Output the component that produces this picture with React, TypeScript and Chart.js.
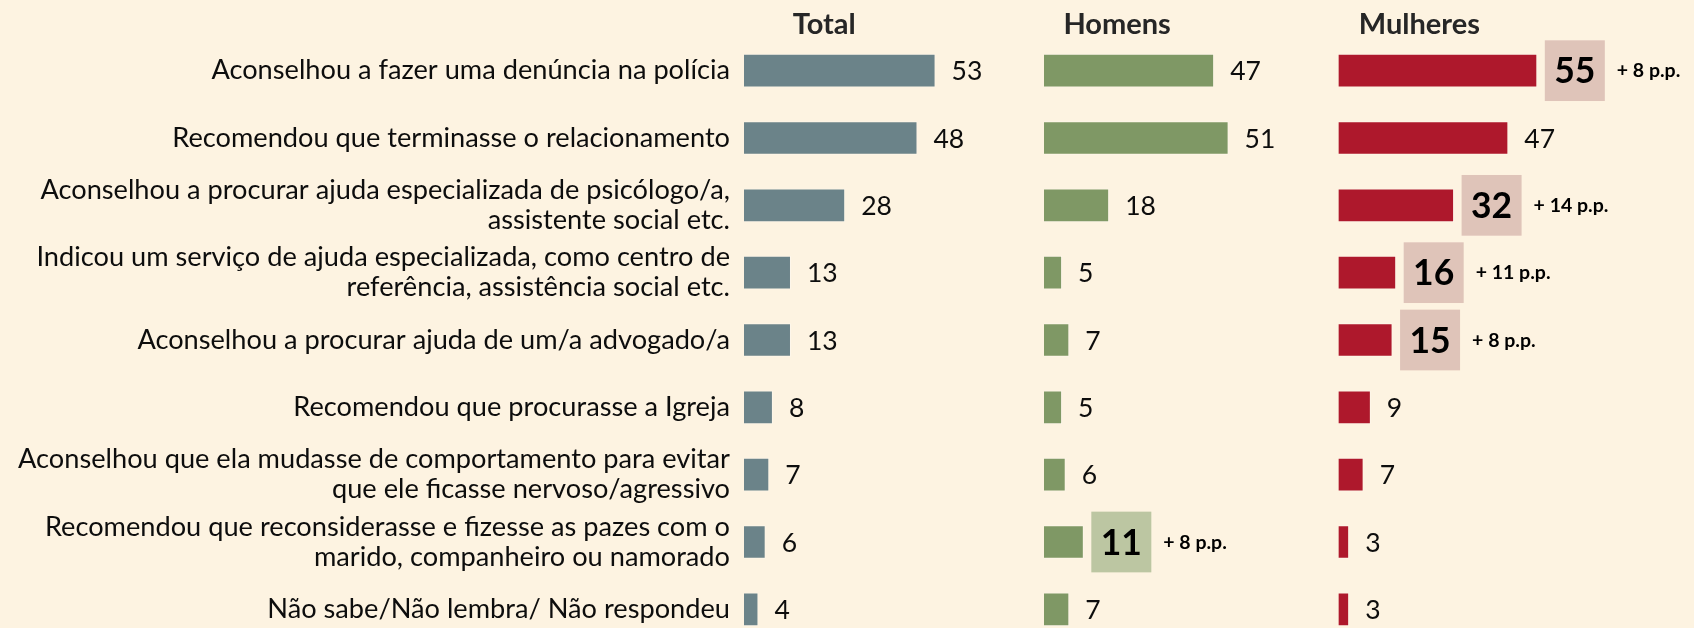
import React, { useEffect, useRef } from "react";
import { Chart, registerables } from "chart.js";

Chart.register(...registerables);

const categories: (string | string[])[] = [
  "Aconselhou a fazer uma denúncia na polícia",
  "Recomendou que terminasse o relacionamento",
  ["Aconselhou a procurar ajuda especializada de psicólogo/a,", "assistente social etc."],
  ["Indicou um serviço de ajuda especializada, como centro de", "referência, assistência social etc."],
  "Aconselhou a procurar ajuda de um/a advogado/a",
  "Recomendou que procurasse a Igreja",
  ["Aconselhou que ela mudasse de comportamento para evitar", "que ele ficasse nervoso/agressivo"],
  ["Recomendou que reconsiderasse e fizesse as pazes com o", "marido, companheiro ou namorado"],
  "Não sabe/Não lembra/ Não respondeu",
];

const totalValues = [53, 48, 28, 13, 13, 8, 7, 6, 4];
const homensValues = [47, 51, 18, 5, 7, 5, 6, 11, 7];
const mulheresValues = [55, 47, 32, 16, 15, 9, 7, 3, 3];

// difference in percentage points (highlighted values)
const totalDiff: (number | null)[] = [null, null, null, null, null, null, null, null, null];
const homensDiff: (number | null)[] = [null, null, null, null, null, null, null, 8, null];
const mulheresDiff: (number | null)[] = [8, null, 14, 11, 8, null, null, null, null];

const panelTitles = ["Total", "Homens", "Mulheres"];
const panelMax = [83, 81.3, 98.3];
const panelWeight = [300, 294.3, 355.7];
const titleAnchor = [22.2, 20.2, 22.4];

const FONT = "Lato, 'Noto Sans', sans-serif";
const BG = "#fdf3e1";
const barColors = ["#6b8389", "#7f9865", "#ae182c"];
const boxColors = ["#d9d9d9", "#bcc6a2", "#dfc4b9"];

const labelPlugin = {
  id: "valueLabels",
  afterDatasetsDraw(chart: any) {
    const ctx: CanvasRenderingContext2D = chart.ctx;
    ctx.save();
    chart.data.datasets.forEach((ds: any, di: number) => {
      const meta = chart.getDatasetMeta(di);
      meta.data.forEach((bar: any, i: number) => {
        const v = ds.data[i];
        const diff = ds.diffs[i];
        const endX = bar.x;
        const y = bar.y;
        if (diff == null) {
          ctx.font = `400 26.5px ${FONT}`;
          ctx.fillStyle = "#0d0d0d";
          ctx.textAlign = "left";
          ctx.textBaseline = "alphabetic";
          ctx.fillText(String(v), endX + 16, y + 9.8);
        } else {
          const bw = 60;
          const bh = 60.7;
          const bx = endX + 7.5;
          ctx.fillStyle = ds.boxColor;
          ctx.fillRect(bx, y - bh / 2, bw, bh);
          ctx.font = `700 35.5px ${FONT}`;
          ctx.fillStyle = "#000000";
          ctx.textAlign = "center";
          ctx.textBaseline = "alphabetic";
          ctx.fillText(String(v), bx + bw / 2, y + 12.8);
          ctx.font = `700 19.5px ${FONT}`;
          ctx.textAlign = "left";
          ctx.fillText(`+ ${diff} p.p.`, bx + bw + 12, y + 6.5);
        }
      });
      const scale = chart.scales[ds.xAxisID];
      ctx.font = `700 29px ${FONT}`;
      ctx.fillStyle = "#262626";
      ctx.textAlign = "center";
      ctx.textBaseline = "alphabetic";
      ctx.fillText(panelTitles[di], scale.getPixelForValue(titleAnchor[di]), 34.3);
    });
    ctx.restore();
  },
};

const bgPlugin = {
  id: "bg",
  beforeDraw(chart: any) {
    const ctx = chart.ctx;
    ctx.save();
    ctx.fillStyle = BG;
    ctx.fillRect(0, 0, chart.width, chart.height);
    ctx.restore();
  },
};

export default function App() {
  const ref = useRef<HTMLCanvasElement>(null);
  useEffect(() => {
    document.body.style.margin = "0";
    document.body.style.background = BG;
    const axisIds = ["xTotal", "xHomens", "xMulheres"];
    const series = [totalValues, homensValues, mulheresValues];
    const diffs = [totalDiff, homensDiff, mulheresDiff];
    const scales: any = {
      y: {
        type: "category",
        position: "left",
        grid: { display: false, drawTicks: false },
        border: { display: false },
        ticks: {
          autoSkip: false,
          padding: 14,
          color: "#0d0d0d",
          font: { family: FONT, size: 27.2, lineHeight: 30 / 27.2 },
        },
        afterFit: (s: any) => {
          s.width = 744;
          s.paddingTop = 0;
          s.paddingBottom = 0;
        },
      },
    };
    axisIds.forEach((id, k) => {
      scales[id] = {
        type: "linear",
        position: "bottom",
        stack: "panels",
        stackWeight: panelWeight[k],
        min: 0,
        max: panelMax[k],
        display: false,
        grid: { display: false },
      };
    });
    const chart = new Chart(ref.current!, {
      type: "bar",
      data: {
        labels: categories,
        datasets: series.map((data, k) => ({
          label: panelTitles[k],
          data,
          xAxisID: axisIds[k],
          yAxisID: "y",
          backgroundColor: barColors[k],
          borderColor: "rgba(255,255,255,0.3)",
          borderWidth: 1,
          grouped: false,
          barPercentage: 0.5,
          categoryPercentage: 1,
          diffs: diffs[k],
          boxColor: boxColors[k],
        })) as any,
      },
      options: {
        indexAxis: "y",
        responsive: false,
        animation: false,
        layout: { padding: { top: 37, bottom: 7, left: 0, right: 0 } },
        plugins: { legend: { display: false }, tooltip: { enabled: false } },
        scales,
      } as any,
      plugins: [bgPlugin, labelPlugin],
    });
    return () => chart.destroy();
  }, []);
  return (
    <div style={{ position: "fixed", top: 0, left: 0, width: 1694, height: 650, background: BG }}>
      <canvas ref={ref} width={1694} height={650} style={{ display: "block" }} />
    </div>
  );
}
